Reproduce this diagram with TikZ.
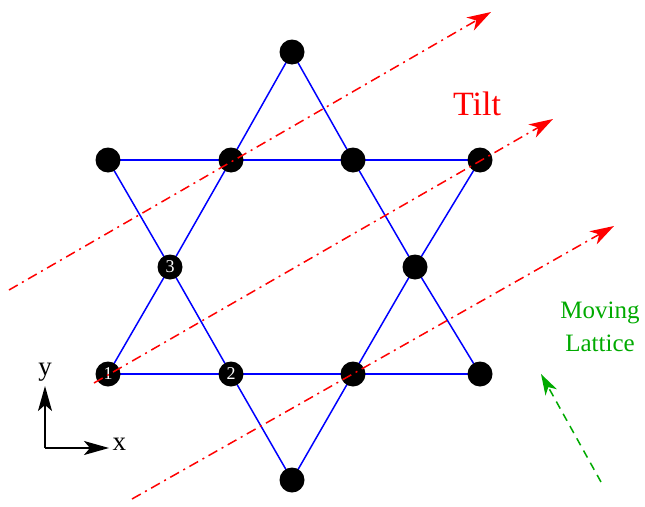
\documentclass[tikz,border=0pt]{standalone}
\usepackage{fontspec}
\setmainfont{Liberation Serif}
\usetikzlibrary{arrows.meta,backgrounds}
\definecolor{mygreen}{RGB}{0,170,0}
\tikzset{
  site/.style={circle,fill=black,minimum size=25pt,inner sep=0pt,text=white,font=\fontsize{18}{18}\selectfont},
  bond/.style={blue,line width=1.5pt},
  tiltarrow/.style={red,line width=1.5pt,dash pattern=on 10pt off 5pt on 2pt off 5pt,-{Stealth[length=24pt,width=15pt,inset=7pt]}},
  axisarrow/.style={black,line width=1.6pt,-{Stealth[length=25pt,width=14pt,inset=6pt]}},
  movearrow/.style={mygreen,line width=1.5pt,dash pattern=on 8pt off 6pt,-{Stealth[length=21pt,width=13pt,inset=6pt]}},
}
\begin{document}
\begin{tikzpicture}[x=1pt,y=-1pt]
\useasboundingbox (0,0) rectangle (645,506);
% sites
\node[site] (t)  at (292,52) {};
\node[site] (u1) at (108,160) {};
\node[site] (u2) at (231,160) {};
\node[site] (u3) at (353,160) {};
\node[site] (u4) at (480,160) {};
\node[site] (m1) at (170,267) {3};
\node[site] (m2) at (415,267) {};
\node[site] (l1) at (108,374) {1};
\node[site] (l2) at (231,374) {2};
\node[site] (l3) at (353,374) {};
\node[site] (l4) at (480,374) {};
\node[site] (b)  at (292,480) {};
% bonds
\begin{scope}[on background layer]
\draw[bond] (u1.center) -- (u2.center) -- (u3.center) -- (u4.center);
\draw[bond] (l1.center) -- (l2.center) -- (l3.center) -- (l4.center);
\draw[bond] (t.center) -- (u2.center) -- (m1.center) -- (l1.center);
\draw[bond] (t.center) -- (u3.center) -- (m2.center) -- (l4.center);
\draw[bond] (u1.center) -- (m1.center) -- (l2.center) -- (b.center);
\draw[bond] (u4.center) -- (m2.center) -- (l3.center) -- (b.center);
\end{scope}
% tilt arrows
\coordinate (a1s) at (9,290);
\coordinate (a1e) at (491,12);
\coordinate (a2s) at (94,383);
\coordinate (a2e) at (553,119);
\coordinate (a3s) at (132,499);
\coordinate (a3e) at (614,226);
\draw[tiltarrow] (a1s) -- (a1e);
\draw[tiltarrow] (a2s) -- (a2e);
\draw[tiltarrow] (a3s) -- (a3e);
\node[red,font=\fontsize{34}{34}\selectfont] (tilt) at (477,104) {Tilt};
% moving lattice
\node[mygreen,font=\fontsize{25}{33}\selectfont,align=center] (ml) at (600,327) {Moving\\Lattice};
\coordinate (g1) at (601,482);
\coordinate (g2) at (541,374);
\draw[movearrow] (g1) -- (g2);
% axes
\coordinate (o) at (45,448);
\coordinate (oy) at (45,386);
\coordinate (ox) at (109,448);
\draw[axisarrow] (o) -- (oy);
\draw[axisarrow] (o) -- (ox);
\node[font=\fontsize{27}{27}\selectfont,anchor=south] (ylab) at (45,385) {y};
\node[font=\fontsize{27}{27}\selectfont,anchor=west] (xlab) at (109,444) {x};
\end{tikzpicture}
\end{document}
